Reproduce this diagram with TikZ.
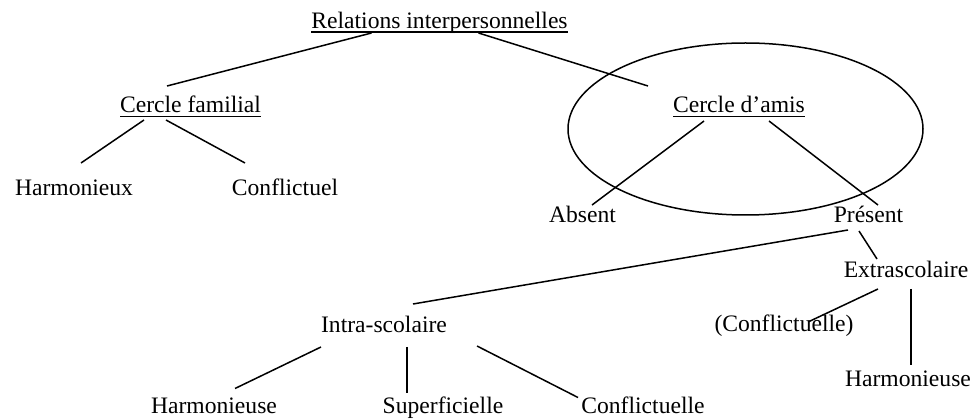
\documentclass[tikz,border=0pt]{standalone}
\usepackage{fontspec}
\setmainfont{Liberation Serif}
\usetikzlibrary{shapes.geometric}
\tikzset{
  lbl/.style={anchor=base, inner sep=0pt, outer sep=0pt, text height=16pt, text depth=5pt,
    font=\fontsize{23.6}{28}\selectfont},
  conn/.style={line width=1.5pt},
  uline/.style={line width=1.3pt},
  ring/.style={draw, ellipse, line width=1.5pt, inner sep=0pt, minimum width=355pt, minimum height=172pt}
}
\begin{document}
\begin{tikzpicture}[x=1pt,y=-1pt]
\useasboundingbox (0,0) rectangle (977,419);
\fill[white] (0,0) rectangle (977,419);
% ellipse
\node[ring] (circ) at (745.5,129) {};
% labels
\node[lbl] (rel) at (439.5,29) {Relations interpersonnelles};
\node[lbl] (fam) at (190.5,113) {Cercle familial};
\node[lbl] (harmA) at (74,196) {Harmonieux};
\node[lbl] (confA) at (285,196) {Conflictuel};
\node[lbl] (amis) at (739,113) {Cercle d’amis};
\node[lbl] (abs) at (582.5,223) {Absent};
\node[lbl] (pres) at (868.5,223) {Présent};
\node[lbl] (extra) at (906,278) {Extrascolaire};
\node[lbl] (intra) at (384,333) {Intra-scolaire};
\node[lbl] (confB) at (784,332) {(Conflictuelle)};
\node[lbl] (harmB) at (908,387) {Harmonieuse};
\node[lbl] (harmC) at (214,413.5) {Harmonieuse};
\node[lbl] (sup) at (443,413.5) {Superficielle};
\node[lbl] (confC) at (643,413.5) {Conflictuelle};
% underlines
\draw[uline] ([yshift=-3pt]rel.base west) -- ([yshift=-3pt]rel.base east);
\draw[uline] ([yshift=-3.5pt]fam.base west) -- ([yshift=-3.5pt]fam.base east);
\draw[uline] ([yshift=-3.5pt]amis.base west) -- ([yshift=-3.5pt]amis.base east);
% connectors
\draw[conn] ([xshift=-68pt,yshift=1pt]rel.south) -- ([xshift=-23.5pt,yshift=11pt]fam.north);
\draw[conn] ([xshift=39pt,yshift=1pt]rel.south) -- ([xshift=-91pt,yshift=11pt]amis.north);
\draw[conn] ([xshift=-46.5pt,yshift=-2pt]fam.south) -- ([xshift=7pt,yshift=17pt]harmA.north);
\draw[conn] ([xshift=-24.5pt,yshift=-2pt]fam.south) -- ([xshift=-40pt,yshift=17pt]confA.north);
\draw[conn] ([xshift=-35pt,yshift=-3pt]amis.south) -- ([xshift=9.5pt,yshift=2pt]abs.north);
\draw[conn] ([xshift=30pt,yshift=-3pt]amis.south) -- ([xshift=9.5pt,yshift=2pt]pres.north);
\draw[conn] ([xshift=-20.5pt,yshift=-2pt]pres.south) -- ([xshift=29pt,yshift=13pt]intra.north);
\draw[conn] ([xshift=-9.5pt,yshift=-3pt]pres.south) -- ([xshift=-29pt,yshift=3pt]extra.north);
\draw[conn] ([xshift=-28pt,yshift=-6pt]extra.south) -- ([xshift=24pt,yshift=-6pt]confB.north);
\draw[conn] ([xshift=5pt,yshift=-6pt]extra.south) -- ([xshift=3pt,yshift=6pt]harmB.north);
\draw[conn] ([xshift=-63pt,yshift=-9pt]intra.south) -- ([xshift=21pt,yshift=9pt]harmC.north);
\draw[conn] ([xshift=23pt,yshift=-9pt]intra.south) -- ([xshift=-36pt,yshift=5pt]sup.north);
\draw[conn] ([xshift=93pt,yshift=-8pt]intra.south) -- ([xshift=-65pt,yshift=0pt]confC.north);
\end{tikzpicture}
\end{document}
